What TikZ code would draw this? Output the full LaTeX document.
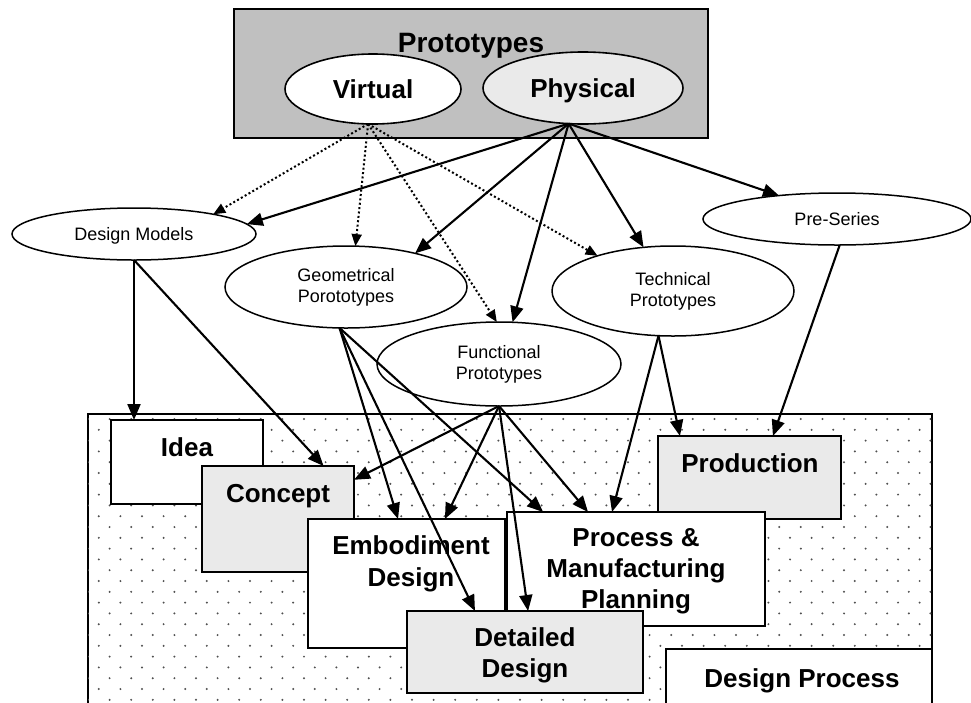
\documentclass[tikz,border=0pt]{standalone}
\usepackage{fontspec}
\setmainfont{Liberation Sans}
\usetikzlibrary{arrows.meta,shapes.geometric,calc}
\definecolor{protofill}{RGB}{192,192,192}
\definecolor{softfill}{RGB}{234,234,234}
\definecolor{dotcol}{RGB}{80,80,80}
\begin{document}
\begin{tikzpicture}[x=1pt,y=-1pt,
  every node/.style={inner sep=0pt, outer sep=0pt},
  bigell/.style={ellipse, draw, line width=1.6pt, text height=19pt, text depth=0pt,
    font=\bfseries\fontsize{26}{30}\selectfont},
  ell/.style={ellipse, draw, line width=1.5pt, fill=white, align=center,
    font=\fontsize{18}{21}\selectfont},
  oneline/.style={text height=13pt, text depth=0pt},
  stagebox/.style={rectangle, draw, line width=1.8pt, fill=white},
  stagetext/.style={anchor=base, font=\bfseries\fontsize{26}{30}\selectfont},
  solidarrow/.style={line width=2.1pt, -{Triangle[length=16pt,width=13pt]}},
  dotarrow/.style={line width=2pt, dash pattern=on 2pt off 2.4pt,
    -{Triangle[length=12pt,width=10pt]}},
]
\useasboundingbox (0,0) rectangle (971,702);

% prototype categories
\node[rectangle, draw, line width=1.8pt, fill=protofill,
  minimum width=474, minimum height=129] (proto) at (471,73.5) {};
\node[anchor=base, font=\bfseries\fontsize{28}{32}\selectfont] (ptitle) at (471,52) {Prototypes};
\node[bigell, fill=white, minimum width=176, minimum height=70] (virt) at (373,89) {Virtual};
\node[bigell, fill=softfill, minimum width=200, minimum height=72] (phys) at (583,88) {Physical};

% prototype kinds
\node[ell, oneline, minimum width=244, minimum height=52] (dm) at (134,234) {Design Models};
\node[ell, minimum width=242, minimum height=82] (geo) at (346,287) {Geometrical\\Porototypes};
\node[ell, minimum width=242, minimum height=90] (tech) at (673,291) {Technical\\Prototypes};
\node[ell, oneline, minimum width=268, minimum height=52] (pre) at (837,219) {Pre-Series};
\node[ell, minimum width=244, minimum height=84] (func) at (499,364) {Functional\\Prototypes};

% design process area with dotted background
\node[rectangle, draw, line width=1.7pt, fill=white,
  minimum width=844, minimum height=296] (area) at (510,562) {};
\begin{scope}
  \clip (88,414) rectangle (932,702);
  \foreach \j in {0,...,26}{
    \foreach \i in {0,...,39}{
      \fill[dotcol] ({88+21.6*\i+10.8*mod(\j,2)}, {419+10.8*\j}) circle[radius=1.1pt];
    }
  }
\end{scope}

% design stages
\node[stagebox, minimum width=152, minimum height=84] (idea) at (187,462) {};
\node[stagetext] (ideaT) at (187,456) {Idea};
\node[stagebox, fill=softfill, minimum width=152, minimum height=106] (concept) at (278,519) {};
\node[stagetext] (conceptT) at (278,502) {Concept};
\node[stagebox, minimum width=197, minimum height=129] (emb) at (406.5,583.5) {};
\node[stagetext] (embT1) at (411,554) {Embodiment};
\node[stagetext] (embT2) at (411,586) {Design};
\node[stagebox, fill=softfill, minimum width=183, minimum height=83] (prod) at (749.5,477.5) {};
\node[stagetext] (prodT) at (750,472) {Production};
\node[stagebox, minimum width=258, minimum height=114] (proc) at (636,569) {};
\node[stagetext] (procT1) at (636,546) {Process \&};
\node[stagetext] (procT2) at (636,577) {Manufacturing};
\node[stagetext] (procT3) at (636,608) {Planning};
\node[stagebox, fill=softfill, minimum width=236, minimum height=82] (det) at (525,652) {};
\node[stagetext] (detT1) at (525,646) {Detailed};
\node[stagetext] (detT2) at (525,677) {Design};
\node[stagebox, minimum width=266, minimum height=62] (dproc) at (799,680) {};
\node[stagetext] (dprocT) at (802,687) {Design Process};

% connectors
\coordinate (vh) at (virt.-98);
\coordinate (ph) at (phys.-112);
\coordinate (gh) at (geo.-99);
\coordinate (th) at (tech.-108);

\draw[dotarrow] (vh) -- (dm.14);
\draw[dotarrow] (vh) -- (geo.77);
\draw[dotarrow] (vh) -- (func.93);
\draw[dotarrow] (vh) -- (tech.155);

\draw[solidarrow] (ph) -- (dm.5);
\draw[solidarrow] (ph) -- (geo.26);
\draw[solidarrow] (ph) -- (func.72);
\draw[solidarrow] (ph) -- (tech.124);
\draw[solidarrow] (ph) -- (pre.158);

\draw[solidarrow] (dm.south) -- (dm.south |- idea.north);
\draw[solidarrow] (dm.south) -- ($(concept.north west)!0.8!(concept.north east)$);

\draw[solidarrow] (gh) -- ($(emb.north west)!0.457!(emb.north east)$);
\draw[solidarrow] (gh) -- ($(det.north west)!0.288!(det.north east)$);
\draw[solidarrow] (gh) -- ($(proc.north west)!0.14!(proc.north east)$);

\draw[solidarrow] (func.south) -- ($(concept.north east)!0.13!(concept.south east)$);
\draw[solidarrow] (func.south) -- ($(emb.north west)!0.695!(emb.north east)$);
\draw[solidarrow] (func.south) -- ($(det.north west)!0.513!(det.north east)$);
\draw[solidarrow] (func.south) -- ($(proc.north west)!0.314!(proc.north east)$);

\draw[solidarrow] (th) -- ($(proc.north west)!0.407!(proc.north east)$);
\draw[solidarrow] (th) -- ($(prod.north west)!0.12!(prod.north east)$);
\draw[solidarrow] (pre.-84) -- ($(prod.north west)!0.628!(prod.north east)$);
\end{tikzpicture}
\end{document}
